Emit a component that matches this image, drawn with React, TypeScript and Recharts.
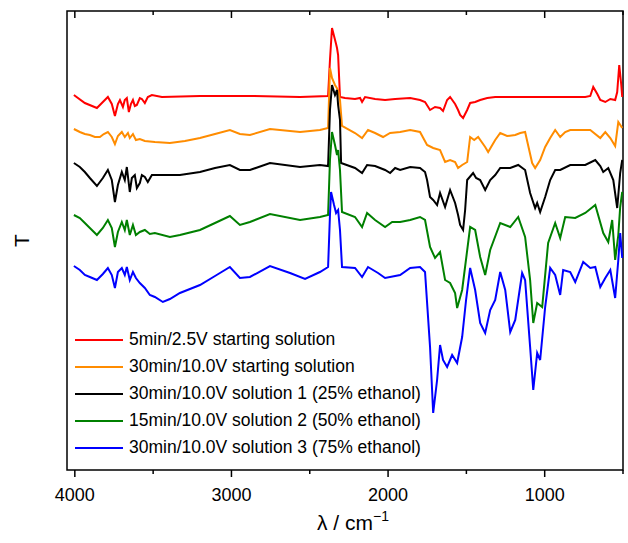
import { LineChart, Line, XAxis, YAxis, Legend, ReferenceArea } from 'recharts';

// FTIR spectra, wavenumber (cm-1) vs. transmittance (stacked, arbitrary units)
const red5min25V: [number, number][] = [
  [4006, 376], [3936, 368], [3859, 363], [3821, 369], [3789, 374], [3764, 367], [3744, 355], [3725, 367],
  [3712, 371], [3693, 364], [3681, 371], [3668, 373], [3655, 359], [3642, 367], [3629, 371], [3617, 365],
  [3604, 366], [3585, 373], [3572, 372], [3553, 368], [3534, 374], [3508, 376], [3444, 374], [3201, 375],
  [2882, 375], [2562, 374], [2383, 375], [2371, 411], [2358, 443], [2345, 435], [2332, 427], [2326, 423],
  [2319, 416], [2307, 374], [2275, 373], [2211, 372], [2179, 373], [2166, 369], [2147, 374], [2083, 372],
  [2019, 371], [1955, 372], [1859, 373], [1796, 371], [1764, 369], [1732, 361], [1700, 364], [1668, 363],
  [1649, 360], [1623, 371], [1604, 374], [1572, 367], [1553, 361], [1540, 356], [1521, 353], [1495, 361],
  [1476, 368], [1444, 369], [1412, 371], [1367, 373], [1316, 374], [1156, 374], [965, 374], [837, 374],
  [741, 374], [709, 375], [690, 384], [664, 377], [645, 371], [613, 369], [581, 372], [550, 371],
  [537, 379], [524, 406], [511, 386], [505, 374],
];

const orange30min10V: [number, number][] = [
  [4006, 342], [3968, 339], [3936, 337], [3904, 336], [3872, 334], [3840, 334], [3815, 337], [3789, 339],
  [3764, 334], [3744, 327], [3725, 335], [3700, 339], [3681, 334], [3661, 338], [3649, 333], [3629, 337],
  [3610, 331], [3585, 332], [3553, 330], [3489, 329], [3393, 328], [3297, 330], [3201, 333], [3105, 337],
  [3010, 341], [2946, 337], [2882, 336], [2754, 342], [2562, 339], [2435, 341], [2383, 343], [2371, 403],
  [2358, 393], [2339, 386], [2319, 381], [2307, 371], [2294, 345], [2211, 338], [2166, 333], [2128, 341],
  [2083, 338], [2032, 334], [1987, 338], [1923, 339], [1859, 341], [1796, 339], [1751, 326], [1712, 323],
  [1668, 321], [1636, 309], [1604, 311], [1572, 309], [1553, 303], [1527, 306], [1495, 309], [1476, 334],
  [1450, 331], [1425, 334], [1380, 324], [1361, 319], [1316, 331], [1284, 338], [1240, 335], [1188, 336],
  [1156, 338], [1125, 339], [1080, 308], [1061, 303], [1029, 311], [997, 324], [965, 333], [933, 341],
  [901, 334], [869, 339], [837, 341], [773, 341], [709, 341], [645, 333], [613, 339], [581, 333],
  [550, 325], [530, 349], [505, 343],
];

const black30min10V: [number, number][] = [
  [4006, 308], [3968, 304], [3936, 299], [3904, 293], [3859, 285], [3821, 293], [3789, 301], [3764, 291],
  [3744, 269], [3725, 286], [3700, 299], [3681, 291], [3668, 304], [3649, 279], [3636, 293], [3617, 296],
  [3604, 283], [3585, 288], [3572, 296], [3553, 294], [3534, 289], [3508, 296], [3425, 296], [3329, 296],
  [3201, 299], [3105, 303], [3010, 306], [2946, 301], [2882, 301], [2754, 308], [2562, 304], [2435, 306],
  [2383, 305], [2371, 361], [2358, 386], [2339, 376], [2326, 381], [2319, 366], [2307, 351], [2300, 308],
  [2211, 303], [2166, 298], [2134, 306], [2083, 305], [2051, 303], [2019, 301], [1987, 298], [1955, 303],
  [1923, 301], [1859, 304], [1796, 303], [1764, 299], [1751, 291], [1732, 274], [1712, 271], [1687, 266],
  [1668, 278], [1636, 264], [1604, 281], [1572, 268], [1553, 256], [1540, 246], [1521, 241], [1508, 261],
  [1495, 291], [1457, 298], [1438, 293], [1412, 291], [1380, 281], [1348, 291], [1316, 296], [1284, 303],
  [1220, 303], [1169, 306], [1125, 301], [1093, 278], [1061, 263], [1048, 268], [1029, 259], [997, 274],
  [965, 291], [933, 301], [901, 301], [837, 306], [741, 306], [677, 311], [645, 305], [626, 299],
  [594, 303], [562, 291], [537, 263], [518, 298], [505, 311],
];

const green15min10V: [number, number][] = [
  [4006, 256], [3968, 253], [3936, 248], [3904, 243], [3859, 236], [3821, 243], [3789, 251], [3764, 243],
  [3744, 224], [3725, 239], [3700, 249], [3681, 241], [3668, 251], [3649, 236], [3629, 246], [3610, 236],
  [3585, 239], [3553, 241], [3521, 237], [3489, 238], [3393, 234], [3329, 236], [3201, 241], [3105, 248],
  [3010, 255], [2946, 246], [2882, 249], [2754, 257], [2562, 251], [2435, 254], [2383, 256], [2371, 311],
  [2358, 339], [2339, 326], [2326, 316], [2319, 321], [2307, 301], [2294, 259], [2211, 254], [2166, 244],
  [2134, 258], [2083, 251], [2019, 244], [1974, 249], [1923, 249], [1859, 251], [1796, 254], [1764, 251],
  [1732, 224], [1700, 213], [1668, 219], [1636, 191], [1604, 188], [1572, 178], [1559, 163], [1527, 181],
  [1476, 244], [1444, 241], [1412, 214], [1380, 196], [1348, 221], [1284, 248], [1220, 244], [1169, 254],
  [1125, 234], [1093, 191], [1073, 148], [1048, 168], [1016, 164], [978, 228], [933, 248], [901, 233],
  [869, 254], [805, 253], [741, 258], [677, 266], [626, 238], [594, 229], [569, 251], [550, 211],
  [530, 236], [518, 264], [505, 279],
];

const blue30min10V: [number, number][] = [
  [4006, 205], [3968, 201], [3936, 196], [3904, 194], [3859, 191], [3821, 197], [3789, 203], [3764, 196],
  [3744, 183], [3725, 199], [3700, 203], [3681, 196], [3668, 204], [3649, 191], [3629, 199], [3610, 193],
  [3585, 188], [3553, 183], [3521, 176], [3489, 174], [3438, 169], [3393, 172], [3329, 178], [3201, 186],
  [3105, 195], [3010, 204], [2946, 193], [2882, 194], [2754, 205], [2626, 198], [2530, 192], [2435, 199],
  [2383, 204], [2371, 256], [2364, 279], [2345, 266], [2332, 258], [2319, 261], [2307, 241], [2294, 204],
  [2211, 203], [2166, 194], [2128, 204], [2064, 198], [2019, 193], [1923, 196], [1859, 203], [1796, 204],
  [1764, 199], [1732, 124], [1712, 58], [1687, 91], [1668, 126], [1649, 111], [1623, 104], [1591, 116],
  [1559, 108], [1527, 134], [1502, 171], [1476, 203], [1444, 181], [1412, 148], [1380, 138], [1348, 161],
  [1316, 171], [1284, 199], [1252, 181], [1220, 139], [1188, 151], [1144, 198], [1125, 191], [1093, 124],
  [1073, 81], [1048, 118], [1029, 111], [997, 164], [965, 203], [933, 196], [901, 176], [882, 201],
  [837, 199], [805, 189], [754, 209], [709, 203], [677, 204], [645, 184], [613, 193], [581, 201],
  [550, 173], [530, 211], [518, 238], [505, 213],
];

const xTicks = [4000, 3500, 3000, 2500, 2000, 1500, 1000, 500];

const series = [
  { name: '5min/2.5V starting solution', color: '#ff0000', data: red5min25V },
  { name: '30min/10.0V starting solution', color: '#ff8c00', data: orange30min10V },
  { name: '30min/10.0V solution 1 (25% ethanol)', color: '#000000', data: black30min10V },
  { name: '15min/10.0V solution 2 (50% ethanol)', color: '#008000', data: green15min10V },
  { name: '30min/10.0V solution 3 (75% ethanol)', color: '#0000ff', data: blue30min10V },
];

const FONT = "'Liberation Sans', Arial, sans-serif";
const CHART_H = 543;
const MARGIN_TOP = 11;
const XAXIS_H = 73;
const PLOT_H = CHART_H - MARGIN_TOP - XAXIS_H;

// bottom tick with label, plus the matching inward tick on the top frame
const FrameTick = ({ x, y, payload }: any) => {
  const major = payload.value % 1000 === 0;
  const len = major ? 7 : 4;
  const top = y - PLOT_H;
  return (
    <g>
      <line x1={x} x2={x} y1={y} y2={y + len} stroke="#000" strokeWidth={1.5} />
      <line x1={x} x2={x} y1={top} y2={top + len} stroke="#000" strokeWidth={1.5} />
      {major && (
        <text x={x} y={y + 31} textAnchor="middle" fontSize={18} fontFamily={FONT} fill="#000">
          {payload.value}
        </text>
      )}
    </g>
  );
};

// legend drawn from the series list so the order stays as in the figure
const renderLegend = () => (
  <div style={{ fontFamily: FONT, fontSize: 17.5, color: '#000' }}>
    {series.map((s) => (
      <div key={s.name} style={{ display: 'flex', alignItems: 'center', height: 27 }}>
        <span style={{ width: 48, borderTop: `2px solid ${s.color}`, marginRight: 6 }} />
        <span>{s.name}</span>
      </div>
    ))}
  </div>
);

// axis titles placed relative to the plot rectangle
const renderTitles = ({ viewBox }: any) => {
  const { x, y, width, height } = viewBox;
  const ty = y + height / 2;
  const tx = x - 46;
  return (
    <g fontFamily={FONT} fill="#000">
      <text x={tx} y={ty} transform={`rotate(-90 ${tx} ${ty})`} textAnchor="middle" dominantBaseline="central" fontSize={21}>
        T
      </text>
      <text x={x + width / 2 + 8} y={y + height + 60} textAnchor="middle" fontSize={21}>
        λ / cm<tspan dy={-9} fontSize={14}>−1</tspan>
      </text>
    </g>
  );
};

export default function App() {
  return (
    <div style={{ position: 'absolute', left: 0, top: 0 }}>
      <LineChart width={628} height={CHART_H} margin={{ top: MARGIN_TOP, right: 5, bottom: 0, left: 67 }}>
        <XAxis
          type="number"
          dataKey="wn"
          domain={[500, 4050]}
          reversed
          allowDataOverflow
          ticks={xTicks}
          interval={0}
          height={XAXIS_H}
          tickSize={0}
          tickMargin={0}
          tickLine={false}
          tick={<FrameTick />}
          axisLine={false}
        />
        <YAxis type="number" domain={[1, 460]} allowDataOverflow hide />
        <ReferenceArea
          x1={500}
          x2={4050}
          y1={1}
          y2={460}
          fill="none"
          stroke="#000"
          strokeWidth={1.5}
          fillOpacity={0}
          ifOverflow="visible"
          label={{ content: renderTitles }}
        />
        <Legend
          layout="vertical"
          align="center"
          verticalAlign="middle"
          content={renderLegend}
          wrapperStyle={{ left: 75, top: 326, width: 'auto' }}
        />
        {series.map((s) => (
          <Line
            key={s.name}
            name={s.name}
            data={s.data.map(([wn, t]) => ({ wn, t }))}
            dataKey="t"
            stroke={s.color}
            strokeWidth={2}
            dot={false}
            activeDot={false}
            isAnimationActive={false}
          />
        ))}
      </LineChart>
    </div>
  );
}
